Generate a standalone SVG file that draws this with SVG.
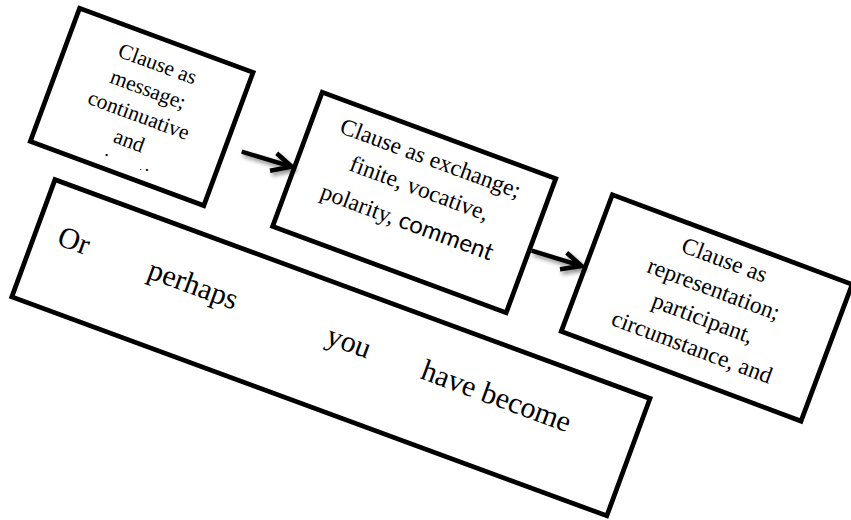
<svg xmlns="http://www.w3.org/2000/svg" width="851" height="520" viewBox="0 0 851 520">
  <defs>
    <style>
      .box { fill: #ffffff; stroke: #000000; stroke-width: 4.75; }
      .serif { font-family: "Liberation Serif", "Times New Roman", serif; fill: #000000; text-anchor: middle; }
      .sans { font-family: Lato, "Open Sans", sans-serif; font-size: 24px; }
      .arrow { fill: none; stroke: #000000; stroke-width: 4.5; stroke-linejoin: miter; }
    </style>
    <filter id="soft-shadow" x="-30%" y="-30%" width="160%" height="180%">
      <feDropShadow dx="2" dy="3" stdDeviation="2" flood-color="#000000" flood-opacity="0.45"/>
    </filter>
    <!-- text area of the first box: overflowing lines are cut off -->
    <clipPath id="msg-text-area">
      <rect x="-90" y="-69" width="180" height="128.4"/>
    </clipPath>
  </defs>

  <!-- wide sentence box -->
  <g id="sentence" transform="translate(330.9,347.7) rotate(20.2)">
    <rect class="box" x="-317" y="-62.5" width="634" height="125"/>
    <g class="serif" font-size="30">
      <text x="-278" y="-2">Or</text>
      <text x="-151" y="-2">perhaps</text>
      <text x="15" y="-2">you</text>
      <text x="172" y="-2">have become</text>
    </g>
  </g>

  <!-- clause as message -->
  <g id="message" transform="translate(141.7,106.9) rotate(20.3)">
    <rect class="box" x="-92.5" y="-71" width="185" height="142"/>
    <g class="serif" font-size="21.5" clip-path="url(#msg-text-area)">
      <text x="0" y="-38.9">Clause as</text>
      <text x="0" y="-11.6">message;</text>
      <text x="0" y="15.7">continuative</text>
      <text x="0" y="43">and</text>
      <text x="0" y="70.4">conjunctive</text>
    </g>
  </g>

  <!-- clause as exchange -->
  <g id="exchange" transform="translate(414.2,202.5) rotate(20.3)">
    <rect class="box" x="-124.5" y="-71.5" width="249" height="143"/>
    <g class="serif" font-size="23.5">
      <text x="0" y="-39.5">Clause as exchange;</text>
      <text x="0" y="-7.5">finite, vocative,</text>
      <text x="0" y="28.5">polarity, <tspan class="sans">comment</tspan></text>
    </g>
  </g>

  <!-- clause as representation -->
  <g id="representation" transform="translate(706.7,307.9) rotate(20.5)">
    <rect class="box" x="-128" y="-73" width="256" height="146"/>
    <g class="serif" font-size="23.5">
      <text x="0" y="-43.5">Clause as</text>
      <text x="0" y="-12.5">representation;</text>
      <text x="0" y="18.5">participant,</text>
      <text x="0" y="49.5">circumstance, and</text>
    </g>
  </g>

  <!-- connectors -->
  <g id="connectors" filter="url(#soft-shadow)">
    <g id="message-to-exchange">
      <path class="arrow" d="M241.7,151.7 L290.5,166.3"/>
      <path class="arrow" d="M276.7,153.3 L291.7,166.7 L270,170.7"/>
    </g>
    <g id="exchange-to-representation">
      <path class="arrow" d="M531.7,250.7 L580.5,265.6"/>
      <path class="arrow" d="M566.7,252.7 L581.7,266 L560,269.3"/>
    </g>
  </g>
</svg>
